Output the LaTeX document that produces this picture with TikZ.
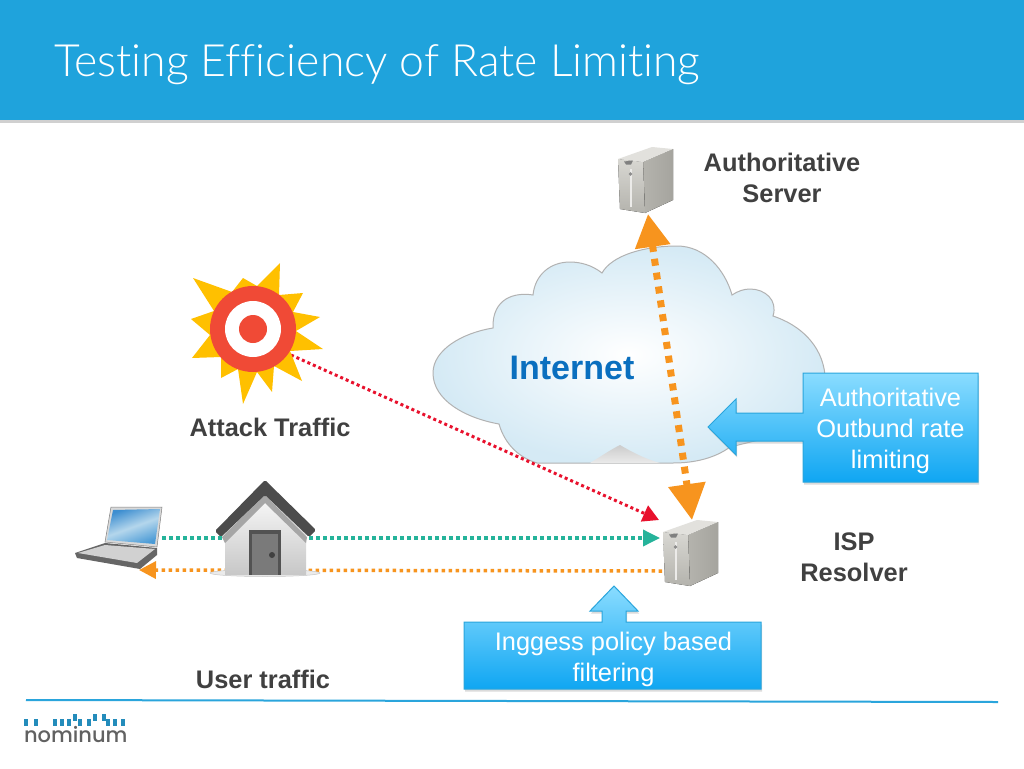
\documentclass[tikz,border=0pt]{standalone}
\usepackage{fontspec}
\setmainfont{Liberation Sans}
\newfontfamily\logofont{Poppins Medium}
\newfontfamily\titlefont[Ligatures=NoCommon]{Lato Light}
\usetikzlibrary{arrows.meta,shadows,calc}
\definecolor{barblue}{HTML}{1FA3DC}
\definecolor{dotorange}{HTML}{F7941E}
\definecolor{dotgreen}{HTML}{25B39A}
\definecolor{dotred}{HTML}{E8112D}
\definecolor{labelgrey}{HTML}{404040}
\definecolor{netblue}{HTML}{0A6FBF}
\definecolor{calltop}{HTML}{8ADCFF}
\definecolor{callbot}{HTML}{0FA6F2}
\definecolor{calledge}{HTML}{2AA5DC}
\definecolor{targetred}{HTML}{F04A36}
\definecolor{staryellow}{HTML}{FFC000}
\definecolor{cloudedge}{HTML}{D5EAF5}
\definecolor{srvlight}{HTML}{D8D7D2}
\definecolor{srvmid}{HTML}{B4B3AD}
\definecolor{srvdark}{HTML}{A5A49E}
\definecolor{screenblue}{HTML}{3D8ED0}
\definecolor{screenpale}{HTML}{B4D6EC}
\definecolor{screenright}{HTML}{4B9BD6}
\tikzset{
  x=1pt,y=-1pt,
  every node/.style={inner sep=0pt,outer sep=0pt},
  lab/.style={font=\fontsize{25.4}{31}\selectfont\bfseries,text=labelgrey,align=center},
  calltext/.style={font=\fontsize{25.4}{30.7}\selectfont,text=white,align=center},
  callout/.style={draw=calledge,line width=1pt,top color=calltop,bottom color=callbot},
  softshadow/.style={general shadow={fill=black!35,opacity=.4,shadow xshift=1pt,shadow yshift=-2.5pt}},
  orangedots/.style={draw=dotorange,line width=7pt,dash pattern=on 7pt off 7pt},
  greendots/.style={draw=dotgreen,line width=3.5pt,dash pattern=on 3.5pt off 3.5pt},
  orangefine/.style={draw=dotorange,line width=3.5pt,dash pattern=on 3.5pt off 3.5pt},
  reddots/.style={draw=dotred,line width=3pt,dash pattern=on 3pt off 3pt},
  server/.pic={
    \fill[left color=srvmid,right color=srvdark] (25,15) -- (55,2) -- (55,53) -- (27,66) -- cycle;
    \fill[top color=srvlight,bottom color=srvmid] (0,12) -- (25,15) -- (27,66) -- (2,62) -- cycle;
    \fill[srvlight!75!white] (0,12) -- (34,0) -- (55,2) -- (25,15) -- cycle;
    \fill[srvlight!50!white] (11.5,22) rectangle (13.5,60);
    \fill[black!50] (6,14.5) -- (15,13.5) -- (13,17.5) -- (8,17.5) -- cycle;
    \fill[black!45] (12.5,27) circle (1.8);
  }
}
\begin{document}
\begin{tikzpicture}
\useasboundingbox (0,0) rectangle (1024,768);
\fill[white] (0,0) rectangle (1024,768);
% title bar
\fill[black!30,opacity=.6] (0,120) rectangle (1024,122.5);
\fill[barblue] (0,0) rectangle (1024,120);
\node[anchor=base west,font=\titlefont\fontsize{44.5}{50}\selectfont,text=white] (title) at (54,76) {Testing Efficiency of Rate Limiting};
% cloud
\shade[inner color=white,outer color=cloudedge,draw=black!30,line width=1pt]
  (493,328) .. controls (462,333) and (433,350) .. (433,373)
  .. controls (433,400) and (465,418) .. (499,424)
  .. controls (505,445) and (520,458) .. (537,463)
  -- (673,463)
  .. controls (695,463) and (715,458) .. (730,447)
  -- (800,430) -- (825,375)
  .. controls (822,345) and (800,325) .. (773,316)
  .. controls (778,300) and (765,289) .. (750,289)
  .. controls (744,289) and (738,291) .. (732,295)
  .. controls (725,270) and (705,246) .. (677,246)
  .. controls (645,246) and (612,255) .. (602,273)
  .. controls (592,265) and (580,262) .. (570,262)
  .. controls (550,262) and (535,275) .. (533,295)
  .. controls (515,292) and (492,298) .. (493,328) -- cycle;
\shade[top color=black!20,bottom color=black!8] (590,463) .. controls (600,457) and (610,450) .. (620,445) .. controls (630,451) and (645,459) .. (660,463) -- cycle;
\node[font=\fontsize{34}{40}\selectfont\bfseries,text=netblue] (internet) at (572,368) {Internet};
% anchors for connectors
\coordinate (authtip) at (648,214);
\coordinate (restip) at (692,520);
\coordinate (targetpt) at (291,355);
\coordinate (redtip) at (659,520);
\coordinate (laptopgreen) at (162,538);
\coordinate (resgreen) at (660,538);
\coordinate (resorange) at (662,571);
\coordinate (laptoporange) at (139,570);
% connectors
\draw[orangedots,{Triangle[length=33pt,width=34pt,fill=dotorange]}-{Triangle[length=36pt,width=36pt,fill=dotorange]}] (authtip) -- (restip);
\draw[reddots,-{Triangle[length=16pt,width=17pt,fill=dotred]}] (targetpt) -- (redtip);
\draw[greendots,-{Triangle[length=17pt,width=16pt,fill=dotgreen]}] (laptopgreen) -- (resgreen);
\draw[orangefine,-{Triangle[length=17pt,width=17pt,fill=dotorange]}] (resorange) -- (laptoporange);
% servers
\pic at (618,147) {server};
\pic at (663,520) {server};
% target
\fill[staryellow]
  (280,263) -- (279,295) -- (303,293) -- (293,312) -- (320,317) -- (296,331) -- (323,349) -- (290,351)
  -- (302,381) -- (274,366) -- (272,392) -- (257,372) -- (243,404) -- (238,369) -- (221,378) -- (221,357)
  -- (192,358) -- (210,335) -- (191,319) -- (214,311) -- (193,278) -- (232,292) -- (243,278) -- (257,286) -- cycle;
\fill[targetred] (253,329) circle (43);
\fill[white] (253,329) circle (28);
\fill[targetred] (253,329) circle (14);
\node[lab] (attack) at (270,427) {Attack Traffic};
% laptop
\fill[black!60] (75,553) -- (105,543) -- (157,548) -- (157,555) -- (140,569) -- (77,558) -- cycle;
\fill[black!18] (78,553) -- (105,545) -- (155,549) -- (137,563) -- cycle;
\fill[black!15,draw=black!50,line width=.5pt] (111,507) -- (162,507) -- (157,547) -- (105,542) -- cycle;
\shade[left color=screenblue,right color=screenright,middle color=screenpale,shading angle=20] (113,510) -- (160,509) -- (155,544) -- (107,540) -- cycle;
% house
\fill[black!8,draw=black!22,line width=.5pt] (265,573) ellipse (55 and 3.5);
\shade[top color=black!2,bottom color=black!22] (225,532) -- (265,494) -- (306,532) -- (306,575) -- (225,575) -- cycle;
\fill[black!35] (222,537) -- (265,495) -- (307,537) -- (306,543) -- (265,503) -- (225,543) -- cycle;
\fill[black!70,rounded corners=1.5pt] (215,531) -- (265,480) -- (316,530) -- (309,537) -- (265,495) -- (221,537) -- cycle;
\fill[black!68] (249,530) rectangle (281,575);
\fill[black!52] (252,534) rectangle (278,575);
\fill[black!75] (272,555) circle (3);
% labels
\node[lab] (authlabel) at (782,178) {Authoritative\\Server};
\node[lab] (isp) at (854,557) {ISP\hspace{8pt}\\Resolver};
\node[lab] (user) at (263,679) {User traffic};
% right callout
\path[callout,softshadow] (803,373) -- (978,373) -- (978,482) -- (803,482) -- (803,441) -- (736,441) -- (736,455) -- (708,427) -- (736,399) -- (736,413) -- (803,413) -- cycle;
\node[calltext] (outbound) at (890.5,431) {Authoritative\\Outbund rate\\limiting};
% bottom callout
\path[callout,softshadow] (464,622) -- (602,622) -- (602,611) -- (590,611) -- (614,586) -- (638,611) -- (626,611) -- (626,622) -- (761,622) -- (761,689) -- (464,689) -- cycle;
\node[calltext] (ingress) at (613.5,659.5) {Inggess policy based\\filtering};
% footer
\draw[calledge,line width=2pt] (26,700) -- (998,702);
\foreach \px/\py in {26/719,36/719,55/719,62/719,69/719,75/714,80/719,89/719,95/714,104/714,108/719,115/719,123/719}
  \fill[calledge!85!black] (\px-1.7,\py) rectangle (\px+1.7,\py+6.5);
\node[anchor=base west,font=\logofont\fontsize{21}{24}\selectfont,text=black!62] (logo) at (24,742) {nominum};
\end{tikzpicture}
\end{document}
